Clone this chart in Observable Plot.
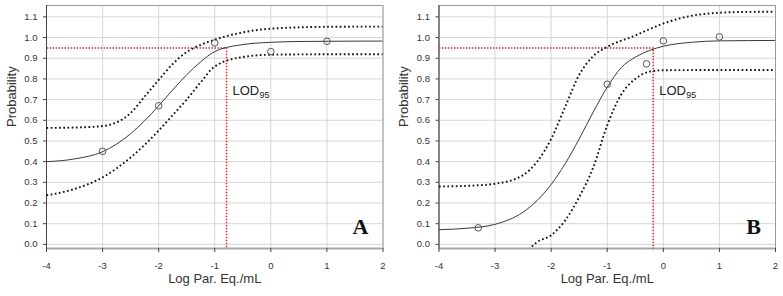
<!DOCTYPE html>
<html>
<head>
<meta charset="utf-8">
<script src="https://cdn.jsdelivr.net/npm/d3@7"></script>
<script src="https://cdn.jsdelivr.net/npm/@observablehq/plot@0.6"></script>
<style>
  html, body { margin: 0; padding: 0; background: #fff; }
  #wrap { display: flex; flex-direction: row; width: 783px; height: 296px; overflow: hidden; }
  #wrap svg { display: block; flex: none; }
</style>
</head>
<body>
<div id="wrap"></div>
<script>
// ---- axes ----
const xTicks = [-4, -3, -2, -1, 0, 1, 2];
const yTicks = [0, 0.1, 0.2, 0.3, 0.4, 0.5, 0.6, 0.7, 0.8, 0.9, 1.0, 1.1];
const xDomain = [-4, 2];
const yDomain = [-0.02, 1.155];
const xLabel = "Log Par. Eq./mL";
const yLabel = "Probability";
const lodLevel = 0.95;

// ---- Panel A ----
const fitAx = [-4, -3.5, -3, -2.5, -2.25, -2, -1.75, -1.5, -1.25, -1, -0.5, 0, 0.5, 1, 2];
const fitAy = [0.40, 0.413, 0.448, 0.535, 0.598, 0.67, 0.747, 0.82, 0.883, 0.932, 0.966, 0.977, 0.981, 0.982, 0.983];
const upAx = [-4, -3.5, -3, -2.75, -2.5, -2.25, -2, -1.75, -1.5, -1.25, -1, -0.5, 0, 1, 2];
const upAy = [0.563, 0.565, 0.572, 0.59, 0.635, 0.715, 0.795, 0.872, 0.93, 0.965, 0.99, 1.025, 1.043, 1.052, 1.053];
const loAx = [-4, -3.5, -3, -2.5, -2, -1.75, -1.5, -1.25, -1, -0.5, 0, 1, 2];
const loAy = [0.237, 0.268, 0.324, 0.42, 0.55, 0.625, 0.70, 0.784, 0.86, 0.906, 0.917, 0.919, 0.919];
const ptsAx = [-3, -2, -1, 0, 1];
const ptsAy = [0.45, 0.67, 0.974, 0.932, 0.982];
const lodA = -0.79;

// ---- Panel B ----
const fitBx = [-4, -3.5, -3, -2.5, -2.25, -2, -1.75, -1.5, -1.25, -1, -0.75, -0.5, -0.25, 0, 0.5, 1, 2];
const fitBy = [0.071, 0.078, 0.097, 0.156, 0.212, 0.29, 0.39, 0.51, 0.64, 0.76, 0.855, 0.905, 0.937, 0.958, 0.977, 0.984, 0.986];
const upBx = [-4, -3.5, -3, -2.5, -2.25, -2, -1.75, -1.5, -1.25, -1, -0.5, -0.25, 0, 0.5, 1, 1.5, 2];
const upBy = [0.28, 0.283, 0.293, 0.335, 0.40, 0.51, 0.665, 0.82, 0.91, 0.955, 1.01, 1.04, 1.068, 1.105, 1.12, 1.124, 1.125];
const loBx = [-2.4, -2.25, -2, -1.75, -1.5, -1.25, -1, -0.75, -0.5, -0.25, 0, 1, 2];
const loBy = [-0.025, 0.011, 0.044, 0.116, 0.229, 0.372, 0.576, 0.725, 0.80, 0.835, 0.842, 0.843, 0.843];
const ptsBx = [-3.3, -1, -0.3, 0, 1];
const ptsBy = [0.08, 0.774, 0.873, 0.984, 1.003];
const lodB = -0.18;

const rows = (xs, ys) => xs.map((x, i) => ({x, y: ys[i]}));

function panel({fit, up, lo, pts, lod, letter, width, marginLeft, marginRight}) {
  const lodPath = [{x: xDomain[0], y: lodLevel}, {x: lod, y: lodLevel}, {x: lod, y: yDomain[0]}];
  const dotted = {x: "x", y: "y", curve: "monotone-x", stroke: "#111", strokeWidth: 1.9, strokeDasharray: "1.7,2.5", strokeLinecap: "butt", clip: true};
  return Plot.plot({
    width, height: 296,
    marginLeft, marginRight, marginTop: 5, marginBottom: 48,
    x: {domain: xDomain},
    y: {domain: yDomain},
    style: {fontFamily: "'Liberation Sans', Arial, sans-serif", fontSize: "9.5px", color: "#333", background: "#fff"},
    marks: [
      Plot.gridY(yTicks, {stroke: "#d6d6d6", strokeOpacity: 1, strokeWidth: 1}),
      Plot.gridX(xTicks, {stroke: "#d6d6d6", strokeOpacity: 1, strokeWidth: 1}),
      Plot.frame({stroke: "#9a9a9a", strokeWidth: 1}),
      Plot.ruleY([yDomain[0]], {stroke: "#a8a8a8", strokeWidth: 2}),
      Plot.ruleX([xDomain[0]], {stroke: "#444", strokeWidth: 1}),
      Plot.axisY(yTicks, {tickFormat: d3.format(".1f"), tickSize: 3, tickPadding: 6, label: null, stroke: "#444"}),
      Plot.axisX(xTicks, {tickFormat: d => d < 0 ? "-" + Math.abs(d) : String(d), tickSize: 4, tickPadding: 10, label: null, stroke: "#444"}),
      Plot.line(lodPath, {x: "x", y: "y", stroke: "#e0282a", strokeWidth: 1.5, strokeDasharray: "1.5,1.5", strokeLinecap: "butt"}),
      Plot.line(up, dotted),
      Plot.line(lo, dotted),
      Plot.line(fit, {x: "x", y: "y", curve: "monotone-x", stroke: "#3a3a3a", strokeWidth: 1, clip: true}),
      Plot.dot(pts, {x: "x", y: "y", r: 3.3, stroke: "#555", strokeWidth: 1, fill: "none"}),
      Plot.text(["LOD"], {x: () => lod, y: () => 0.72, dx: 6, textAnchor: "start", lineAnchor: "bottom", fontSize: 13, fill: "#222"}),
      Plot.text(["95"], {x: () => lod, y: () => 0.72, dx: 33, dy: 2.5, textAnchor: "start", lineAnchor: "bottom", fontSize: 9, fill: "#222"}),
      Plot.text([letter], {frameAnchor: "bottom-right", dx: -14.5, dy: -15, lineAnchor: "bottom", textAnchor: "end", fontSize: 22, fontWeight: "bold", fontFamily: "'Liberation Serif', 'DejaVu Serif', serif", fill: "#111"}),
      Plot.text([yLabel], {frameAnchor: "left", rotate: -90, dx: -35, fontSize: 13, fill: "#333"}),
      Plot.text([xLabel], {frameAnchor: "bottom", dy: 34, fontSize: 13, fill: "#333"})
    ]
  });
}

const wrap = document.getElementById("wrap");
wrap.append(panel({
  fit: rows(fitAx, fitAy), up: rows(upAx, upAy), lo: rows(loAx, loAy), pts: rows(ptsAx, ptsAy),
  lod: lodA, letter: "A", width: 392, marginLeft: 46, marginRight: 9.5
}));
wrap.append(panel({
  fit: rows(fitBx, fitBy), up: rows(upBx, upBy), lo: rows(loBx, loBy), pts: rows(ptsBx, ptsBy),
  lod: lodB, letter: "B", width: 391, marginLeft: 46.5, marginRight: 8
}));
</script>
</body>
</html>
